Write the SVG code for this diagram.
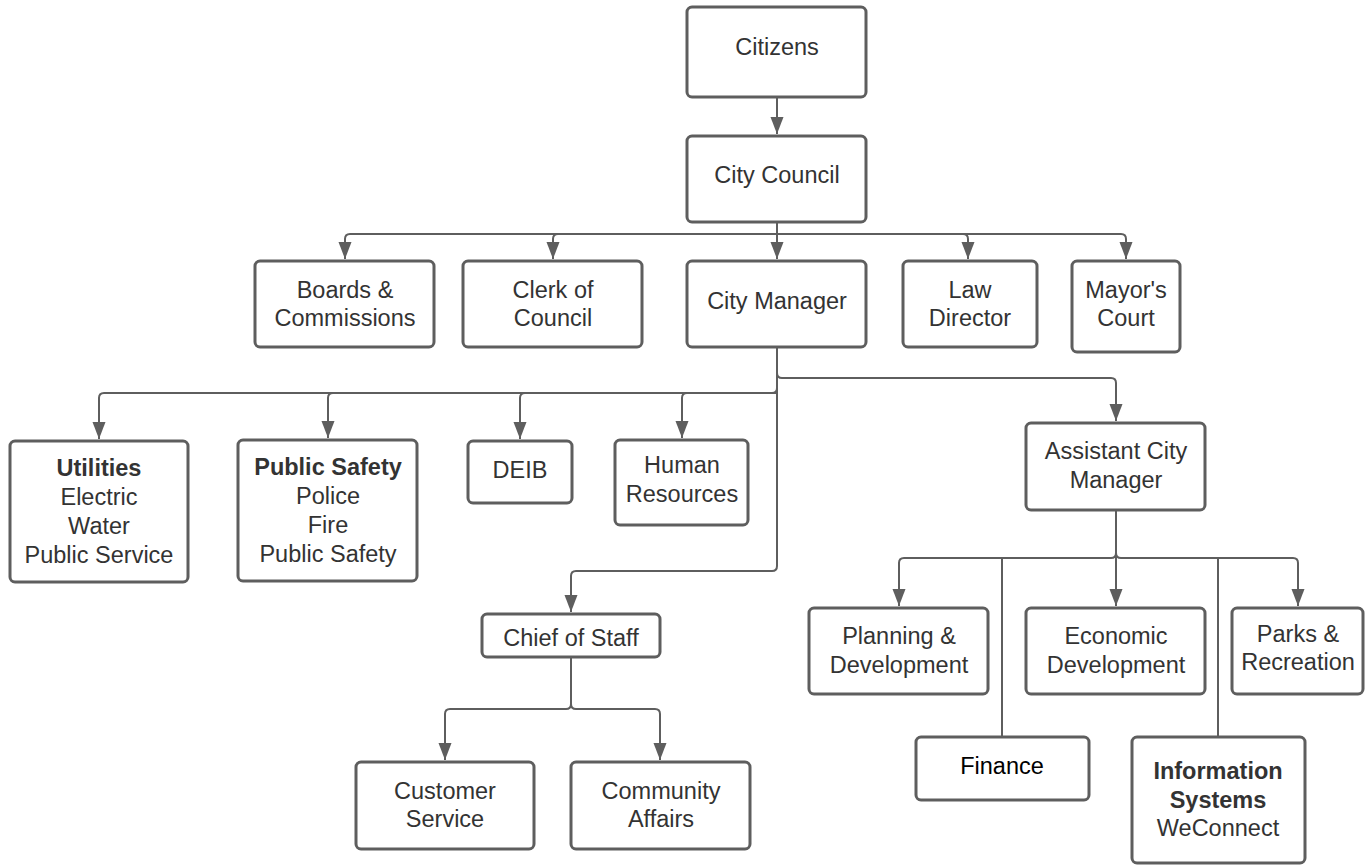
<svg xmlns="http://www.w3.org/2000/svg" width="1371" height="865" viewBox="0 0 1371 865">
<defs>
<marker id="ah" markerUnits="userSpaceOnUse" markerWidth="18" markerHeight="14" refX="17" refY="7" orient="auto">
<path d="M0,0.5 L17,7 L0,13.5 z" fill="#5e5e5e"/>
</marker>
<style>
.box{fill:#fff;stroke:#5e5e5e;stroke-width:3}
.t{font-family:"Liberation Sans",Arial,sans-serif;font-size:23.5px;fill:#333;text-anchor:middle}
.b{font-weight:bold}
.k{fill:#000}
.c{fill:none;stroke:#5e5e5e;stroke-width:2}
.a{marker-end:url(#ah)}
</style>
</defs>
<rect width="1371" height="865" fill="#fff"/>
<g id="connectors">
<path class="c a" d="M777,97 V134"/>
<path class="c a" d="M777,222 V259"/>
<path class="c a" d="M777,234 H350 Q345,234 345,239 V259"/>
<path class="c a" d="M777,234 H558 Q553,234 553,239 V259"/>
<path class="c a" d="M777,234 H963 Q968,234 968,239 V259"/>
<path class="c a" d="M777,234 H1121 Q1126,234 1126,239 V259"/>
<path class="c a" d="M777,347 V388 Q777,393 772,393 H104 Q99,393 99,398 V439"/>
<path class="c a" d="M777,393 H333 Q328,393 328,398 V438"/>
<path class="c a" d="M777,393 H525 Q520,393 520,398 V439"/>
<path class="c a" d="M777,393 H687 Q682,393 682,398 V438"/>
<path class="c a" d="M777,347 V373 Q777,378 782,378 H1111 Q1116,378 1116,383 V421"/>
<path class="c a" d="M777,347 V566 Q777,571 772,571 H576 Q571,571 571,576 V612"/>
<path class="c a" d="M571,657 V704 Q571,709 566,709 H450 Q445,709 445,714 V760"/>
<path class="c a" d="M571,704 Q571,709 576,709 H655 Q660,709 660,714 V760"/>
<path class="c a" d="M1116,510 V553 Q1116,558 1111,558 H904 Q899,558 899,563 V606"/>
<path class="c a" d="M1116,510 V606"/>
<path class="c a" d="M1116,553 Q1116,558 1121,558 H1293 Q1298,558 1298,563 V606"/>
<path class="c" d="M1002,558 V737"/>
<path class="c" d="M1218,558 V737"/>
</g>
<g id="citizens"><rect class="box" x="687" y="7" width="179" height="90" rx="5"/><text class="t" x="777" y="55">Citizens</text></g>
<g id="city-council"><rect class="box" x="687" y="136" width="179" height="86" rx="5"/><text class="t" x="777" y="183">City Council</text></g>
<g id="boards"><rect class="box" x="255" y="261" width="179" height="86" rx="5"/><text class="t" x="345" y="298">Boards &amp;</text><text class="t" x="345" y="326">Commissions</text></g>
<g id="clerk"><rect class="box" x="463" y="261" width="179" height="86" rx="5"/><text class="t" x="553" y="298">Clerk of</text><text class="t" x="553" y="326">Council</text></g>
<g id="city-manager"><rect class="box" x="687" y="261" width="179" height="86" rx="5"/><text class="t" x="777" y="309">City Manager</text></g>
<g id="law-director"><rect class="box" x="903" y="261" width="134" height="86" rx="5"/><text class="t" x="970" y="298">Law</text><text class="t" x="970" y="326">Director</text></g>
<g id="mayors-court"><rect class="box" x="1072" y="261" width="108" height="91" rx="5"/><text class="t" x="1126" y="298">Mayor's</text><text class="t" x="1126" y="326">Court</text></g>
<g id="utilities"><rect class="box" x="10" y="441" width="178" height="141" rx="5"/><text class="t b" x="99" y="476">Utilities</text><text class="t" x="99" y="505">Electric</text><text class="t" x="99" y="534">Water</text><text class="t" x="99" y="563">Public Service</text></g>
<g id="public-safety"><rect class="box" x="238" y="440" width="179" height="141" rx="5"/><text class="t b" x="328" y="475">Public Safety</text><text class="t" x="328" y="504">Police</text><text class="t" x="328" y="533">Fire</text><text class="t" x="328" y="562">Public Safety</text></g>
<g id="deib"><rect class="box" x="468" y="441" width="104" height="62" rx="5"/><text class="t" x="520" y="478">DEIB</text></g>
<g id="human-resources"><rect class="box" x="615" y="440" width="133" height="85" rx="5"/><text class="t" x="682" y="473">Human</text><text class="t" x="682" y="502">Resources</text></g>
<g id="assistant-city-manager"><rect class="box" x="1026" y="423" width="179" height="87" rx="5"/><text class="t" x="1116" y="459">Assistant City</text><text class="t" x="1116" y="488">Manager</text></g>
<g id="chief-of-staff"><rect class="box" x="482" y="614" width="178" height="43" rx="5"/><text class="t" x="571" y="646">Chief of Staff</text></g>
<g id="customer-service"><rect class="box" x="356" y="762" width="178" height="87" rx="5"/><text class="t" x="445" y="799">Customer</text><text class="t" x="445" y="827">Service</text></g>
<g id="community-affairs"><rect class="box" x="571" y="762" width="179" height="87" rx="5"/><text class="t" x="661" y="799">Community</text><text class="t" x="661" y="827">Affairs</text></g>
<g id="planning"><rect class="box" x="809" y="608" width="179" height="86" rx="5"/><text class="t" x="899" y="644">Planning &amp;</text><text class="t" x="899" y="673">Development</text></g>
<g id="economic"><rect class="box" x="1026" y="608" width="179" height="86" rx="5"/><text class="t" x="1116" y="644">Economic</text><text class="t" x="1116" y="673">Development</text></g>
<g id="parks"><rect class="box" x="1232" y="608" width="131" height="86" rx="5"/><text class="t" x="1298" y="642">Parks &amp;</text><text class="t" x="1298" y="670">Recreation</text></g>
<g id="finance"><rect class="box" x="916" y="737" width="173" height="63" rx="5"/><text class="t k" x="1002" y="774">Finance</text></g>
<g id="information-systems"><rect class="box" x="1132" y="737" width="173" height="126" rx="5"/><text class="t b" x="1218" y="779">Information</text><text class="t b" x="1218" y="808">Systems</text><text class="t" x="1218" y="836">WeConnect</text></g>
</svg>
